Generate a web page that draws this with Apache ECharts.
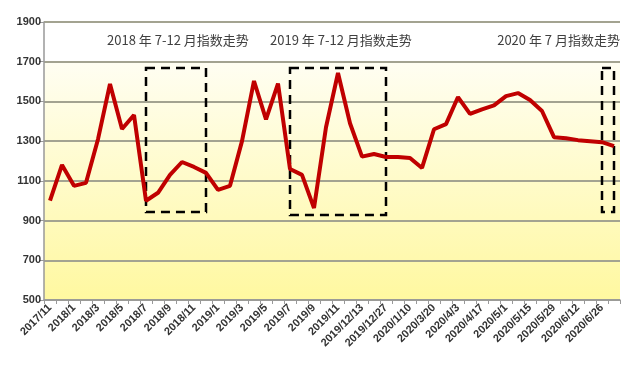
<!DOCTYPE html>
<html>
<head>
<meta charset="utf-8">
<script src="https://cdn.jsdelivr.net/npm/echarts@6/dist/echarts.min.js"></script>
<style>html,body{margin:0;padding:0;background:#fff;}#c{width:640px;height:368px;}</style>
</head>
<body>
<div id="c"></div>
<script>
var categories = ['2017/11','2017/12','2018/1','2018/2','2018/3','2018/4','2018/5','2018/6','2018/7','2018/8','2018/9','2018/10','2018/11','2018/12',
  '2019/1','2019/2','2019/3','2019/4','2019/5','2019/6','2019/7','2019/8','2019/9','2019/10','2019/11','2019/12/6','2019/12/13','2019/12/20','2019/12/27',
  '2020/1/3','2020/1/10','2020/1/17','2020/3/20','2020/3/27','2020/4/3','2020/4/10','2020/4/17','2020/4/24','2020/5/1','2020/5/8','2020/5/15','2020/5/22',
  '2020/5/29','2020/6/5','2020/6/12','2020/6/19','2020/6/26','2020/7/3'];
var indexValues = [1000,1180,1075,1090,1310,1588,1361,1432,1000,1040,1130,1195,1170,1140,
  1055,1075,1300,1603,1410,1590,1160,1130,963,1370,1643,1390,1222,1235,1220,
  1220,1215,1165,1360,1386,1522,1437,1460,1480,1527,1542,1507,1452,
  1320,1315,1305,1300,1295,1275];
var yTicks = {min: 500, max: 1900, interval: 200};
var boxes = [
  {from: 8, to: 13.1, low: 943, high: 1668},
  {from: 19.75, to: 28, low: 928, high: 1668},
  {from: 45.75, to: 47.25, low: 943, high: 1668}
];
var notes = ['2018 年 7-12 月指数走势', '2019 年 7-12 月指数走势', '2020 年 7 月指数走势'];

var chart = echarts.init(document.getElementById('c'), null, {renderer: 'canvas'});
var txtStyle = {fill: '#404040', font: '13px "Noto Sans CJK SC", sans-serif'};
chart.setOption({
  animation: false,
  grid: {left: 44, right: 20, top: 22, bottom: 68, show: true, borderWidth: 0,
    backgroundColor: new echarts.graphic.LinearGradient(0, 0, 0, 1, [
      {offset: 0, color: '#ffffff'},
      {offset: 0.142, color: '#ffffff'},
      {offset: 0.145, color: '#fffef2'},
      {offset: 1, color: '#fff8a0'}
    ])},
  xAxis: {
    type: 'category', data: categories, boundaryGap: true,
    axisLine: {lineStyle: {color: '#999999', width: 1.5}},
    axisTick: {show: true, interval: 0, length: 4, lineStyle: {color: '#999999'}},
    axisLabel: {interval: 1, rotate: 45, fontSize: 11, fontWeight: 'bold', color: '#333333',
      fontFamily: 'Liberation Sans', margin: 6}
  },
  yAxis: {
    type: 'value', min: yTicks.min, max: yTicks.max, interval: yTicks.interval,
    axisLine: {show: true, lineStyle: {color: '#999999', width: 1.5}},
    axisTick: {show: true, length: 5, lineStyle: {color: '#999999'}},
    axisLabel: {fontSize: 11, fontWeight: 'bold', color: '#333333', fontFamily: 'Liberation Sans', margin: 3,
      formatter: function (v) { return String(v); }},
    splitLine: {lineStyle: {color: '#a3a391', width: 2}}
  },
  series: [{
    type: 'line', data: indexValues, symbol: 'none',
    lineStyle: {color: '#c00000', width: 4}, z: 3,
    markArea: {
      silent: true,
      itemStyle: {color: 'rgba(0,0,0,0)', borderColor: '#000000', borderWidth: 2.5, borderType: [9, 6]},
      data: boxes.map(function (b) { return [{xAxis: b.from, yAxis: b.high}, {xAxis: b.to, yAxis: b.low}]; })
    }
  }],
  graphic: [
    {type: 'text', left: 107, top: 34, style: Object.assign({text: notes[0]}, txtStyle)},
    {type: 'text', left: 270, top: 34, style: Object.assign({text: notes[1]}, txtStyle)},
    {type: 'text', right: 20, top: 34, style: Object.assign({text: notes[2]}, txtStyle)}
  ]
});
</script>
</body>
</html>
